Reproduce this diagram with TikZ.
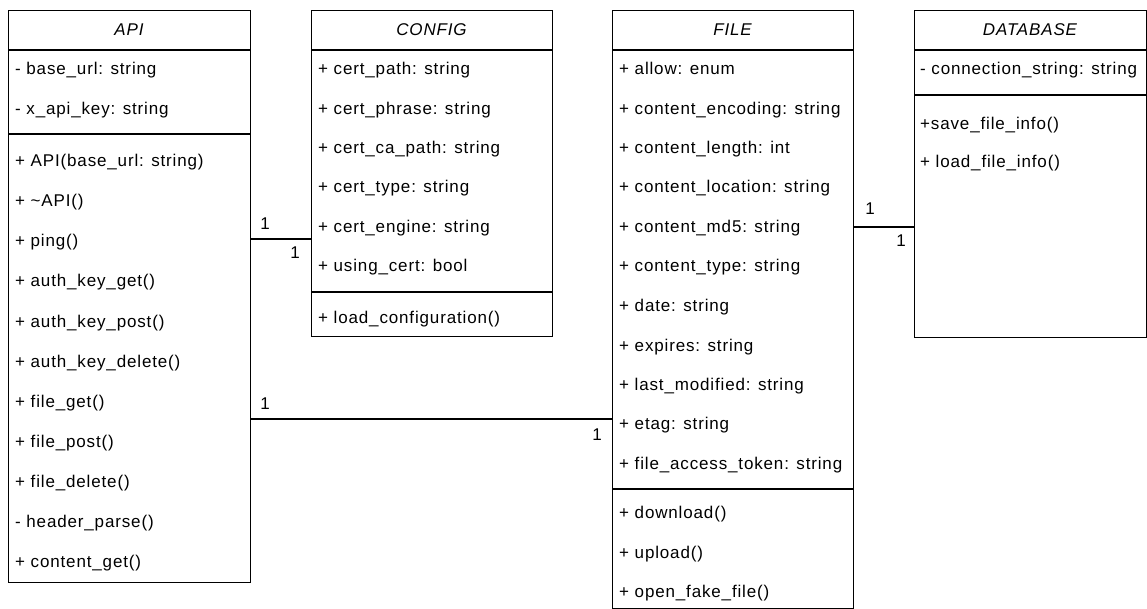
\documentclass[tikz,border=0pt]{standalone}
\usepackage{fontspec}
\setmainfont{Liberation Sans}[LetterSpace=5]
\newcommand{\fsz}{\fontsize{17}{20}\selectfont}
\begin{document}
\begin{tikzpicture}[x=1pt,y=-1pt,
  classbox/.style={draw, line width=1.2pt, inner sep=0pt, anchor=north west},
  sepline/.style={line width=1.2pt},
  item/.style={anchor=base west, inner sep=0pt, font=\fsz},
  ctitle/.style={anchor=base, inner sep=0pt, font=\fsz\itshape},
  mult/.style={inner sep=0pt, font=\fsz},
  conn/.style={line width=1.2pt}]
\useasboundingbox (0,0) rectangle (1147,609);
% ---------- boxes
\node[classbox, minimum width=242pt, minimum height=572pt] (api) at (8,10) {};
\node[classbox, minimum width=241pt, minimum height=326pt] (config) at (311,10) {};
\node[classbox, minimum width=241pt, minimum height=598pt] (file) at (612,10) {};
\node[classbox, minimum width=232pt, minimum height=327pt] (db) at (914,10) {};
% ---------- separators
\draw[sepline] (api.west |- 0,50) -- (api.east |- 0,50);
\draw[sepline] (api.west |- 0,134) -- (api.east |- 0,134);
\draw[sepline] (config.west |- 0,50) -- (config.east |- 0,50);
\draw[sepline] (config.west |- 0,292) -- (config.east |- 0,292);
\draw[sepline] (file.west |- 0,50) -- (file.east |- 0,50);
\draw[sepline] (file.west |- 0,489) -- (file.east |- 0,489);
\draw[sepline] (db.west |- 0,50) -- (db.east |- 0,50);
\draw[sepline] (db.west |- 0,95) -- (db.east |- 0,95);
% ---------- titles
\node[ctitle] (tapi) at (129,36) {API};
\node[ctitle] (tconfig) at (431.5,36) {CONFIG};
\node[ctitle] (tfile) at (732.5,36) {FILE};
\node[ctitle] (tdb) at (1030,36) {DATABASE};
% ---------- API
\node[item] (a1) at (15,75) {- base\_url: string};
\node[item] (a2) at (15,115) {- x\_api\_key: string};
\node[item] (a3) at (15,167) {+ API(base\_url: string)};
\node[item] (a4) at (15,207) {+ \textasciitilde API()};
\node[item] (a5) at (15,247) {+ ping()};
\node[item] (a6) at (15,287) {+ auth\_key\_get()};
\node[item] (a7) at (15,327) {+ auth\_key\_post()};
\node[item] (a8) at (15,367) {+ auth\_key\_delete()};
\node[item] (a9) at (15,407) {+ file\_get()};
\node[item] (a10) at (15,447) {+ file\_post()};
\node[item] (a11) at (15,487) {+ file\_delete()};
\node[item] (a12) at (15,527) {- header\_parse()};
\node[item] (a13) at (15,567) {+ content\_get()};
% ---------- CONFIG
\node[item] (c1) at (318,75) {+ cert\_path: string};
\node[item] (c2) at (318,115) {+ cert\_phrase: string};
\node[item] (c3) at (318,154) {+ cert\_ca\_path: string};
\node[item] (c4) at (318,193) {+ cert\_type: string};
\node[item] (c5) at (318,233) {+ cert\_engine: string};
\node[item] (c6) at (318,272) {+ using\_cert: bool};
\node[item] (c7) at (318,323) {+ load\_configuration()};
% ---------- FILE
\node[item] (f1) at (619,75) {+ allow: enum};
\node[item] (f2) at (619,115) {+ content\_encoding: string};
\node[item] (f3) at (619,154) {+ content\_length: int};
\node[item] (f4) at (619,193) {+ content\_location: string};
\node[item] (f5) at (619,233) {+ content\_md5: string};
\node[item] (f6) at (619,272) {+ content\_type: string};
\node[item] (f7) at (619,311) {+ date: string};
\node[item] (f8) at (619,351) {+ expires: string};
\node[item] (f9) at (619,390) {+ last\_modified: string};
\node[item] (f10) at (619,429) {+ etag: string};
\node[item] (f11) at (619,469) {+ file\_access\_token: string};
\node[item] (f12) at (619,518) {+ download()};
\node[item] (f13) at (619,558) {+ upload()};
\node[item] (f14) at (619,597) {+ open\_fake\_file()};
% ---------- DATABASE
\node[item] (d1) at (920,75) {- connection\_string: string};
\node[item] (d2) at (920,130) {+save\_file\_info()};
\node[item] (d3) at (920,168) {+ load\_file\_info()};
% ---------- connectors
\coordinate (y1) at (0,239);
\coordinate (y2) at (0,419);
\coordinate (y3) at (0,227);
\draw[conn] (api.east |- y1) -- (config.west |- y1);
\draw[conn] (api.east |- y2) -- (file.west |- y2);
\draw[conn] (file.east |- y3) -- (db.west |- y3);
\node[mult] (m1) at (265,224) {1};
\node[mult] (m2) at (295,253) {1};
\node[mult] (m3) at (265,404) {1};
\node[mult] (m4) at (597,435) {1};
\node[mult] (m5) at (870,209) {1};
\node[mult] (m6) at (901,241) {1};
\end{tikzpicture}
\end{document}
